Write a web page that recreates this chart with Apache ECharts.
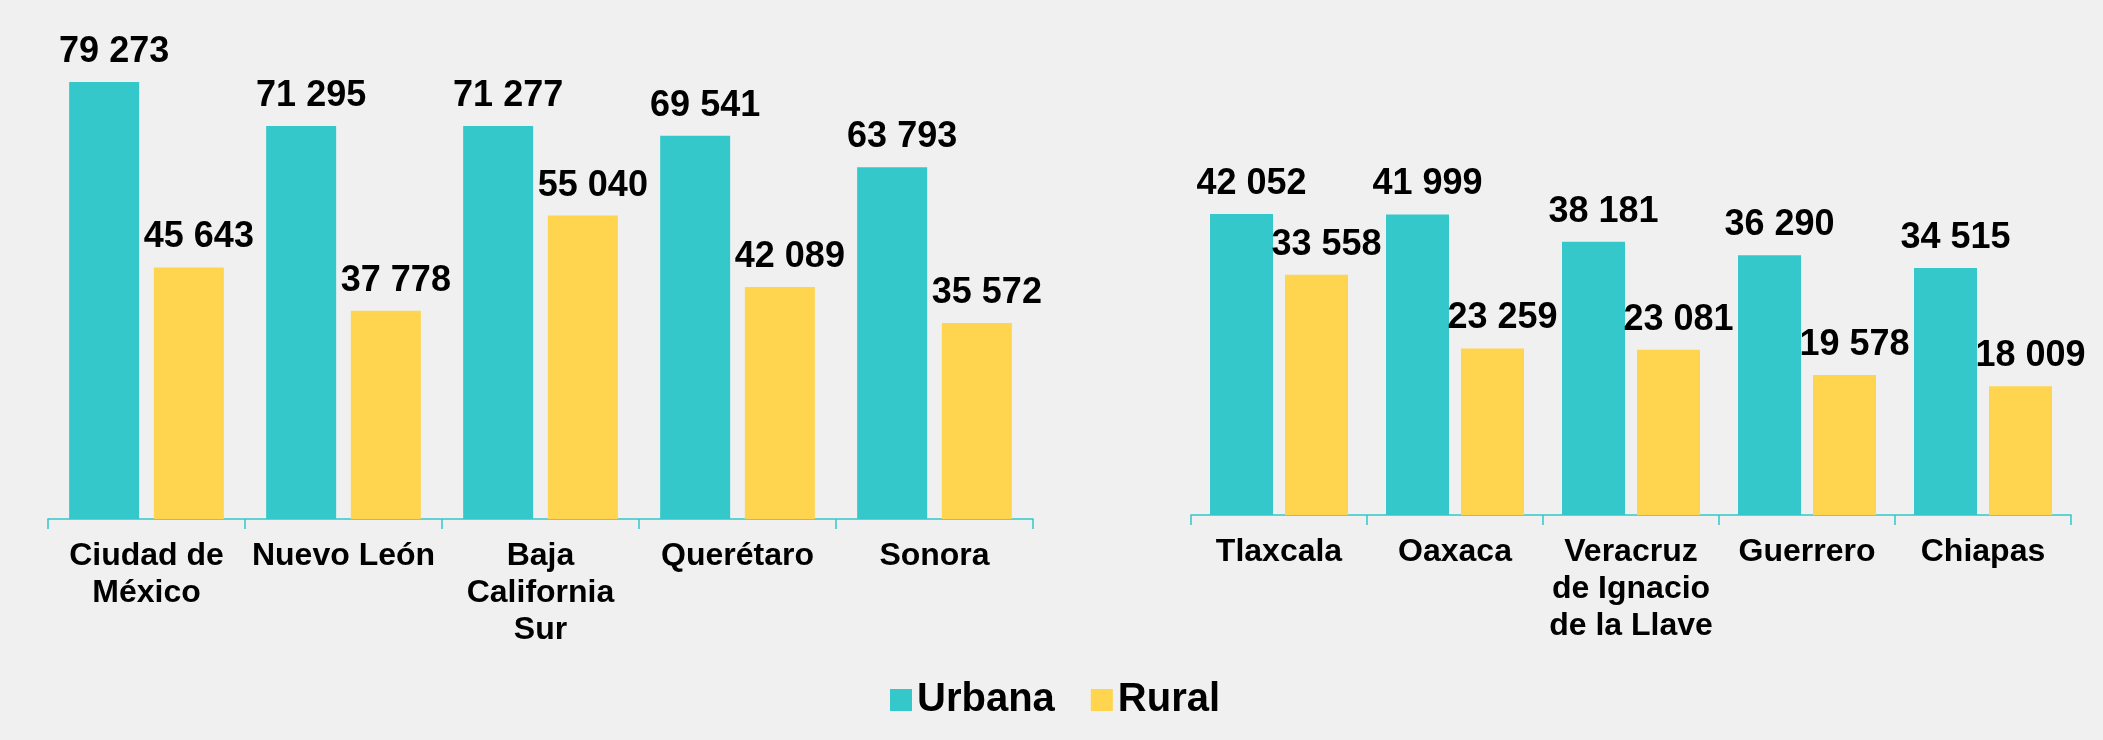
<!DOCTYPE html>
<html>
<head>
<meta charset="utf-8">
<script src="https://cdn.jsdelivr.net/npm/echarts@6/dist/echarts.min.js"></script>
<style>
  html, body { margin: 0; padding: 0; background: #f0f0f0; }
  #main { width: 2103px; height: 740px; }
</style>
</head>
<body>
<div id="main"></div>
<script>
// estados con mayor ingreso (izquierda) y menor ingreso (derecha)
var estadosAltos = ['Ciudad de\nMéxico', 'Nuevo León', 'Baja\nCalifornia\nSur', 'Querétaro', 'Sonora'];
var urbanaAltos = [79273, 71295, 71277, 69541, 63793];
var ruralAltos = [45643, 37778, 55040, 42089, 35572];

var estadosBajos = ['Tlaxcala', 'Oaxaca', 'Veracruz\nde Ignacio\nde la Llave', 'Guerrero', 'Chiapas'];
var urbanaBajos = [42052, 41999, 38181, 36290, 34515];
var ruralBajos = [33558, 23259, 23081, 19578, 18009];

var colUrbana = '#34c8ca';
var colRural = '#ffd44f';
var fuente = '"Liberation Sans", Arial, sans-serif';

// separador de miles con espacio
function miles(p) {
  return String(p.value).replace(/\B(?=(\d{3})+(?!\d))/g, ' ');
}

var etiqueta = {
  show: true,
  position: 'top',
  distance: 12,
  offset: [10, 0],
  formatter: miles,
  color: '#000',
  fontFamily: fuente,
  fontWeight: 'bold',
  fontSize: 36
};

function ejeX(idx, cats) {
  return {
    type: 'category',
    gridIndex: idx,
    data: cats,
    axisLine: { lineStyle: { color: '#33c6c9', width: 1.5 } },
    axisTick: { show: true, length: 10, lineStyle: { color: '#33c6c9', width: 1.5 } },
    axisLabel: {
      interval: 0,
      margin: 19,
      color: '#000',
      fontFamily: fuente,
      fontWeight: 'bold',
      fontSize: 32,
      lineHeight: 37
    }
  };
}

function ejeY(idx, max) {
  return {
    type: 'value',
    gridIndex: idx,
    min: 0,
    max: max,
    show: false,
    splitLine: { show: false }
  };
}

var chart = echarts.init(document.getElementById('main'));

var option = {
  backgroundColor: '#f0f0f0',
  animation: false,
  color: [colUrbana, colRural],
  legend: {
    data: ['Urbana', 'Rural'],
    icon: 'rect',
    left: 885,
    top: 675,
    itemWidth: 22,
    itemHeight: 22,
    itemGap: 36,
    textStyle: {
      color: '#000',
      fontFamily: fuente,
      fontWeight: 'bold',
      fontSize: 40
    }
  },
  grid: [
    { left: 48, right: 1070, top: 78, bottom: 221 },
    { left: 1191, right: 32, top: 193, bottom: 225 }
  ],
  xAxis: [ejeX(0, estadosAltos), ejeX(1, estadosBajos)],
  yAxis: [ejeY(0, 80000), ejeY(1, 45000)],
  series: [
    {
      name: 'Urbana', type: 'bar', xAxisIndex: 0, yAxisIndex: 0,
      data: urbanaAltos, barWidth: 70, barGap: '21%',
      itemStyle: { color: colUrbana }, label: etiqueta
    },
    {
      name: 'Rural', type: 'bar', xAxisIndex: 0, yAxisIndex: 0,
      data: ruralAltos, barWidth: 70, barGap: '21%',
      itemStyle: { color: colRural }, label: etiqueta
    },
    {
      name: 'Urbana', type: 'bar', xAxisIndex: 1, yAxisIndex: 1,
      data: urbanaBajos, barWidth: 63, barGap: '19%',
      itemStyle: { color: colUrbana }, label: etiqueta
    },
    {
      name: 'Rural', type: 'bar', xAxisIndex: 1, yAxisIndex: 1,
      data: ruralBajos, barWidth: 63, barGap: '19%',
      itemStyle: { color: colRural }, label: etiqueta
    }
  ]
};

chart.setOption(option);
</script>
</body>
</html>
